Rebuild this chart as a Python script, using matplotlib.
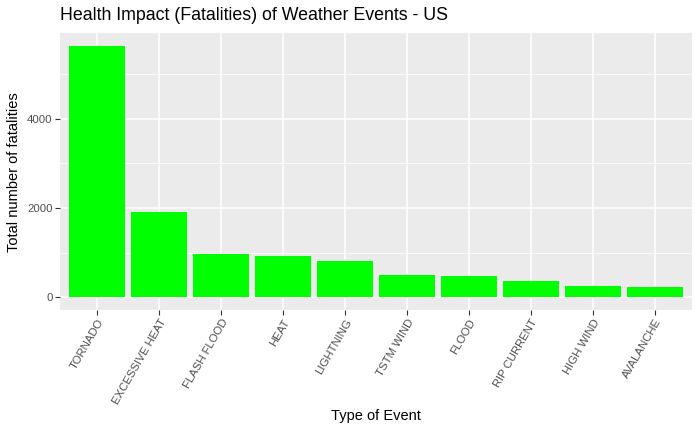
import matplotlib.pyplot as plt
import numpy as np

plt.rcParams["font.family"] = ["Liberation Sans", "DejaVu Sans"]

# data
events = ["TORNADO", "EXCESSIVE HEAT", "FLASH FLOOD", "HEAT", "LIGHTNING",
          "TSTM WIND", "FLOOD", "RIP CURRENT", "HIGH WIND", "AVALANCHE"]
fatalities = [5633, 1903, 978, 937, 816, 504, 470, 368, 248, 224]
y_ticks = [0, 2000, 4000]
y_minor = [1000, 3000, 5000]

fig = plt.figure(figsize=(7, 4.32), dpi=100)
ax = fig.add_axes([60 / 700, (432 - 310) / 432, 632 / 700, 277 / 432])
ax.set_facecolor("#EBEBEB")

x = np.arange(len(events))
ax.bar(x, fatalities, width=0.9, color="#00FF00", zorder=3)

# ggplot-style expansion
ymax = max(fatalities)
ax.set_ylim(-0.05 * ymax, 1.05 * ymax)
ax.set_xlim(-0.6, len(events) - 0.4)

ax.set_yticks(y_ticks)
ax.set_yticks(y_minor, minor=True)
ax.set_xticks(x)
ax.set_xticklabels(events, rotation=60, ha="right", va="top", rotation_mode="anchor")

ax.grid(which="major", color="white", linewidth=1.1, zorder=1)
ax.grid(which="minor", axis="y", color="white", linewidth=0.55, zorder=1)
for s in ax.spines.values():
    s.set_visible(False)
ax.tick_params(axis="both", which="major", length=3.3, width=0.8, color="#333333",
               labelcolor="#4D4D4D", labelsize=8.2, pad=2)
ax.tick_params(axis="both", which="minor", length=0)

# axis titles and plot title
fig.text(376 / 700, 1 - 416 / 432, "Type of Event", fontsize=10.5,
         ha="center", va="center")
fig.text(14 / 700, 1 - 172 / 432, "Total number of fatalities", fontsize=10.5,
         ha="center", va="center", rotation=90)
fig.text(60 / 700, 1 - 16 / 432, "Health Impact (Fatalities) of Weather Events - US",
         fontsize=12.8, ha="left", va="center")

fig.savefig("out.png", dpi=100)
